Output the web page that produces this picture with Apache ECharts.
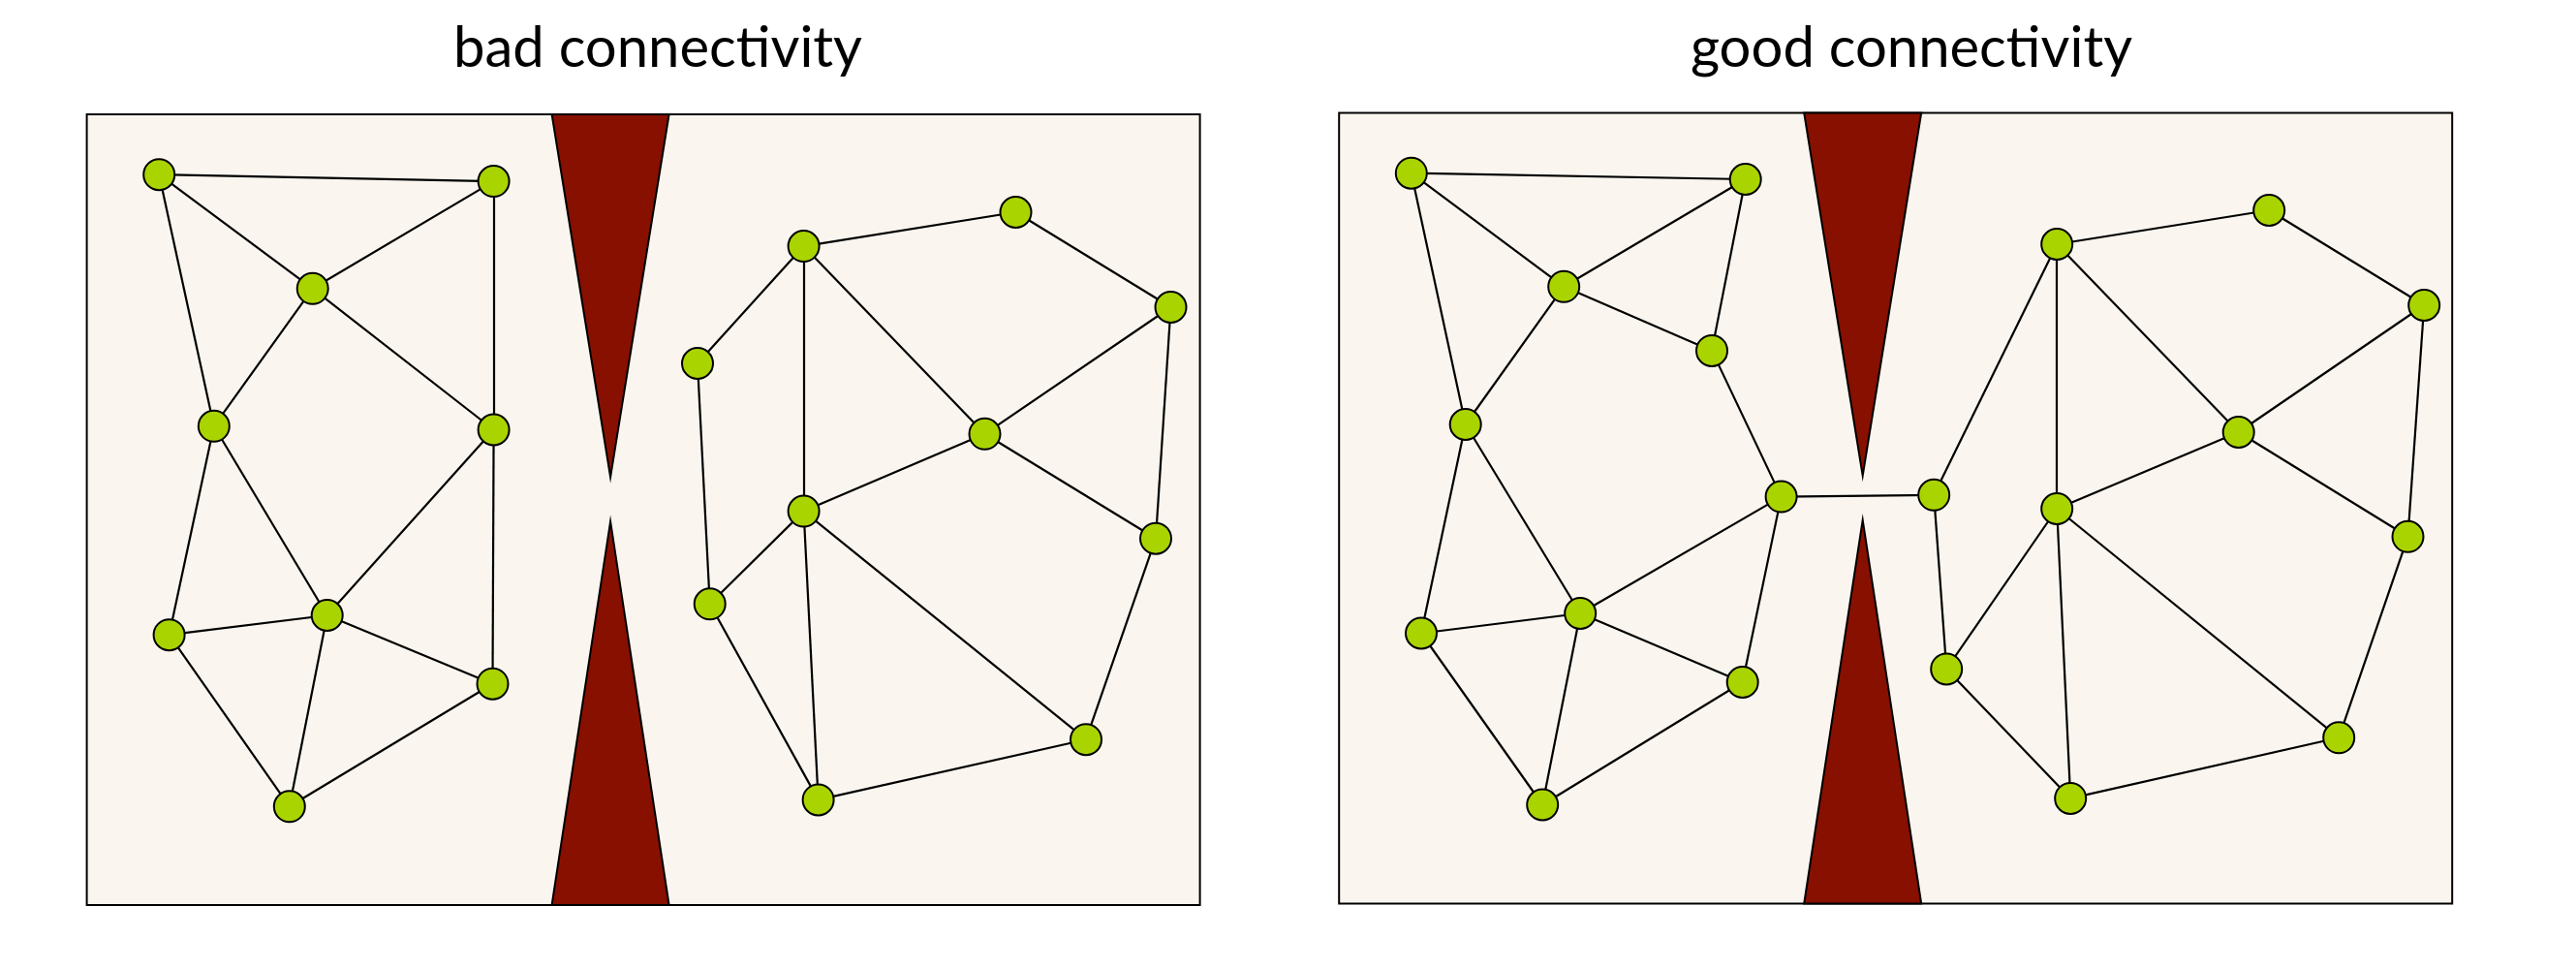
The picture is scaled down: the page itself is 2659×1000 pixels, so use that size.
<!DOCTYPE html>
<html lang="en">
<head>
    <meta charset="UTF-8">
    <title>Connectivity</title>
    <script src="https://cdn.jsdelivr.net/npm/echarts@6/dist/echarts.min.js"></script>
    <style>
        body { margin: 0; background: #fff; }
        #main { width: 2659px; height: 1000px; }
    </style>
</head>
<body>
    <div id="main"></div>
    <script>
        // panel titles
        var titles = ['bad connectivity', 'good connectivity'];

        // node positions inside each box (x right, y down)
        var badNodes = [
            [74.6, 62.2], [420, 69.1], [233.1, 179.8], [131.2, 321.8], [420, 325.5],
            [85, 537.2], [248.1, 517], [418.9, 587.7], [209.2, 714.3],
            [740, 136.1], [958.9, 101], [1118.9, 199], [630.4, 257], [926.9, 329.8],
            [740, 409.6], [1103.4, 437.7], [643.1, 505.3], [1031.4, 645.2], [755, 707.4]
        ];
        var badEdges = [
            [0, 1], [0, 2], [0, 3], [1, 2], [1, 4], [2, 3], [2, 4], [3, 5], [3, 6], [4, 6],
            [4, 7], [5, 6], [5, 8], [6, 7], [6, 8], [7, 8],
            [9, 10], [10, 11], [9, 12], [9, 13], [9, 14], [11, 13], [11, 15], [13, 14],
            [13, 15], [12, 16], [14, 16], [14, 18], [14, 17], [15, 17], [16, 18], [17, 18]
        ];

        var goodNodes = [
            [74.6, 62.2], [419.5, 68.5], [232, 179.3], [130.5, 321.5], [456.4, 396.1],
            [84.8, 537], [249, 516.5], [416.5, 587.5], [210, 714],
            [741, 135.5], [960, 100.5], [1120, 198.5], [614, 394.3], [928.5, 329.5],
            [741, 408.5], [1103.3, 437.3], [627, 573.9], [1032, 644.8], [755, 707.4],
            [384.8, 245.4]
        ];
        var goodEdges = [
            [0, 1], [0, 2], [0, 3], [1, 2], [1, 19], [2, 19], [2, 3], [19, 4], [3, 5], [3, 6],
            [4, 6], [4, 7], [4, 12], [5, 6], [5, 8], [6, 7], [6, 8], [7, 8],
            [9, 10], [10, 11], [9, 12], [9, 13], [9, 14], [11, 13], [11, 15], [13, 14],
            [13, 15], [12, 16], [14, 16], [14, 18], [14, 17], [15, 17], [16, 18], [17, 18]
        ];

        // the two red wedges: x0,y0, x1,y1, x2,y2
        var wedgeTop = [480, 0, 601, 0, 540.5, 374.5];
        var wedgeBottom = [480, 816, 601, 816, 540.5, 420];

        var boxW = 1149, boxH = 816;

        var panels = [
            { nodes: badNodes, edges: badEdges, left: 89.6, top: 118, titleX: 674 },
            { nodes: goodNodes, edges: goodEdges, left: 1382.2, top: 116.5, titleX: 1968 }
        ];

        var myChart = echarts.init(document.getElementById('main'));

        var option = {
            animation: false,
            title: [],
            grid: [],
            xAxis: [],
            yAxis: [],
            series: []
        };

        panels.forEach(function (p, i) {
            option.title.push({
                text: titles[i],
                left: p.titleX,
                top: 16,
                textAlign: 'center',
                textStyle: { fontFamily: 'Lato', fontSize: 58, fontWeight: 'normal', color: '#000' }
            });
            option.grid.push({
                left: p.left, top: p.top, width: boxW, height: boxH,
                show: true, backgroundColor: '#faf6ef', borderColor: '#000', borderWidth: 2
            });
            option.xAxis.push({ type: 'value', gridIndex: i, min: 0, max: boxW, show: false });
            option.yAxis.push({ type: 'value', gridIndex: i, min: 0, max: boxH, inverse: true, show: false });

            option.series.push({
                type: 'custom',
                xAxisIndex: i,
                yAxisIndex: i,
                silent: true,
                z: 1,
                data: [wedgeTop, wedgeBottom],
                renderItem: function (params, api) {
                    var pts = [];
                    for (var k = 0; k < 3; k++) {
                        pts.push(api.coord([api.value(k * 2), api.value(k * 2 + 1)]));
                    }
                    return {
                        type: 'polygon',
                        shape: { points: pts },
                        style: { fill: '#881000', stroke: '#000', lineWidth: 2 }
                    };
                }
            });

            option.series.push({
                type: 'graph',
                coordinateSystem: 'cartesian2d',
                xAxisIndex: i,
                yAxisIndex: i,
                layout: 'none',
                silent: true,
                z: 3,
                symbolSize: 32,
                itemStyle: { color: '#aad400', borderColor: '#000', borderWidth: 2 },
                lineStyle: { color: '#000', width: 2.2, opacity: 1, curveness: 0 },
                label: { show: false },
                data: p.nodes.map(function (n) { return { value: n }; }),
                links: p.edges.map(function (e) { return { source: e[0], target: e[1] }; })
            });
        });

        myChart.setOption(option);
    </script>
</body>
</html>
